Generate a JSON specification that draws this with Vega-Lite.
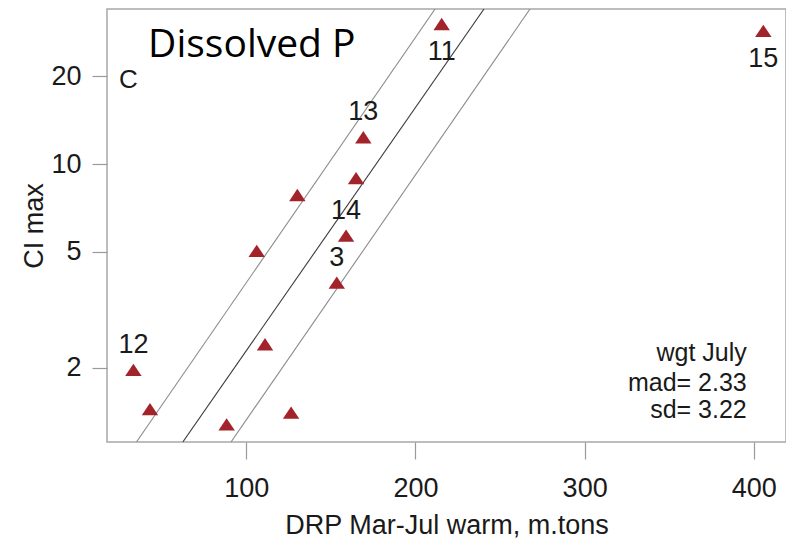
{
  "$schema": "https://vega.github.io/schema/vega-lite/v6.json",
  "width": 679,
  "height": 433,
  "autosize": {"type": "none"},
  "padding": {"left": 107, "top": 9, "right": 0, "bottom": 98},
  "background": "white",
  "config": {
    "font": "Liberation Sans",
    "view": {"stroke": "#a8a8a8", "strokeWidth": 1.5}
  },
  "datasets": {
    "points": [
      {"drp": 215.5, "ci": 30.2, "label": "11", "side": "below"},
      {"drp": 405.6, "ci": 28.6, "label": "15", "side": "below"},
      {"drp": 169.2, "ci": 12.35, "label": "13", "side": "above"},
      {"drp": 164.9, "ci": 8.94, "label": "", "side": "none"},
      {"drp": 130.2, "ci": 7.83, "label": "", "side": "none"},
      {"drp": 159.0, "ci": 5.68, "label": "14", "side": "above"},
      {"drp": 106.2, "ci": 5.04, "label": "", "side": "none"},
      {"drp": 153.5, "ci": 3.92, "label": "3", "side": "above"},
      {"drp": 111.1, "ci": 2.41, "label": "", "side": "none"},
      {"drp": 33.3, "ci": 1.97, "label": "12", "side": "above"},
      {"drp": 43.1, "ci": 1.445, "label": "", "side": "none"},
      {"drp": 88.4, "ci": 1.28, "label": "", "side": "none"},
      {"drp": 126.5, "ci": 1.404, "label": "", "side": "none"}
    ],
    "lines": [
      {"line": "fit", "drp": 62.5, "ci": 1.114},
      {"line": "fit", "drp": 240.5, "ci": 34.0},
      {"line": "upper", "drp": 35.1, "ci": 1.114},
      {"line": "upper", "drp": 211.6, "ci": 34.0},
      {"line": "lower", "drp": 91.0, "ci": 1.114},
      {"line": "lower", "drp": 267.7, "ci": 34.0}
    ],
    "stats": [
      {"drp": 395.8, "ci": 2.11, "text": "wgt July"},
      {"drp": 395.8, "ci": 1.665, "text": "mad= 2.33"},
      {"drp": 395.8, "ci": 1.345, "text": "sd= 3.22"}
    ],
    "panel": [
      {"drp": 24.8, "ci": 19.4, "text": "C"}
    ],
    "heading": [
      {"drp": 42.0, "ci": 23.3, "text": "Dissolved P"}
    ]
  },
  "layer": [
    {
      "data": {"name": "lines"},
      "mark": {"type": "line", "clip": true, "strokeWidth": 1.1},
      "encoding": {
        "x": {"field": "drp", "type": "quantitative", "scale": {"domain": [17.7, 419], "nice": false, "zero": false}},
        "y": {"field": "ci", "type": "quantitative", "scale": {"type": "log", "domain": [1.114, 34.0], "nice": false}},
        "detail": {"field": "line"},
        "color": {"field": "line", "type": "nominal", "scale": {"domain": ["fit", "upper", "lower"], "range": ["#3a3a3a", "#8c8c8c", "#8c8c8c"]}, "legend": null}
      }
    },
    {
      "data": {"name": "points"},
      "mark": {"type": "point", "filled": true, "shape": "M0,-0.75L-1,0.75L1,0.75Z", "size": 270, "color": "#a3232b", "opacity": 1},
      "encoding": {
        "x": {
          "field": "drp", "type": "quantitative",
          "axis": {
            "values": [100, 200, 300, 400], "title": "DRP Mar-Jul warm, m.tons",
            "domain": false, "grid": false, "tickSize": 17, "tickColor": "#9a9a9a", "tickWidth": 1.2,
            "labelFontSize": 27, "labelColor": "#1a1a1a", "labelPadding": 16, "labelFont": "Liberation Sans",
            "titleFontSize": 27, "titleFontWeight": "normal", "titleColor": "#1a1a1a", "titleFont": "Liberation Sans",
            "titleY": 91, "titleBaseline": "alphabetic"
          }
        },
        "y": {
          "field": "ci", "type": "quantitative",
          "axis": {
            "values": [2, 5, 10, 20], "title": "CI max",
            "domain": false, "grid": false, "tickSize": 15, "tickColor": "#9a9a9a", "tickWidth": 1.2,
            "labelFontSize": 27, "labelColor": "#1a1a1a", "labelPadding": 11, "labelFont": "Liberation Sans",
            "titleFontSize": 27, "titleFontWeight": "normal", "titleColor": "#1a1a1a", "titleFont": "Liberation Sans",
            "titleX": -65, "titleBaseline": "alphabetic"
          }
        }
      }
    },
    {
      "data": {"name": "points"},
      "transform": [{"filter": "datum.side == 'above'"}],
      "mark": {"type": "text", "fontSize": 27, "dy": -25, "align": "center", "baseline": "middle", "color": "#1a1a1a", "font": "Liberation Sans"},
      "encoding": {
        "x": {"field": "drp", "type": "quantitative"},
        "y": {"field": "ci", "type": "quantitative"},
        "text": {"field": "label"}
      }
    },
    {
      "data": {"name": "points"},
      "transform": [{"filter": "datum.side == 'below'"}],
      "mark": {"type": "text", "fontSize": 27, "dy": 28, "align": "center", "baseline": "middle", "color": "#1a1a1a", "font": "Liberation Sans"},
      "encoding": {
        "x": {"field": "drp", "type": "quantitative"},
        "y": {"field": "ci", "type": "quantitative"},
        "text": {"field": "label"}
      }
    },
    {
      "data": {"name": "stats"},
      "mark": {"type": "text", "fontSize": 25, "align": "right", "baseline": "alphabetic", "color": "#1a1a1a", "font": "Liberation Sans"},
      "encoding": {
        "x": {"field": "drp", "type": "quantitative"},
        "y": {"field": "ci", "type": "quantitative"},
        "text": {"field": "text"}
      }
    },
    {
      "data": {"name": "panel"},
      "mark": {"type": "text", "fontSize": 26, "align": "left", "baseline": "middle", "color": "#1a1a1a", "font": "Liberation Sans"},
      "encoding": {
        "x": {"field": "drp", "type": "quantitative"},
        "y": {"field": "ci", "type": "quantitative"},
        "text": {"field": "text"}
      }
    },
    {
      "data": {"name": "heading"},
      "mark": {"type": "text", "fontSize": 39, "align": "left", "baseline": "alphabetic", "color": "#000000", "font": "Open Sans"},
      "encoding": {
        "x": {"field": "drp", "type": "quantitative"},
        "y": {"field": "ci", "type": "quantitative"},
        "text": {"field": "text"}
      }
    }
  ]
}
